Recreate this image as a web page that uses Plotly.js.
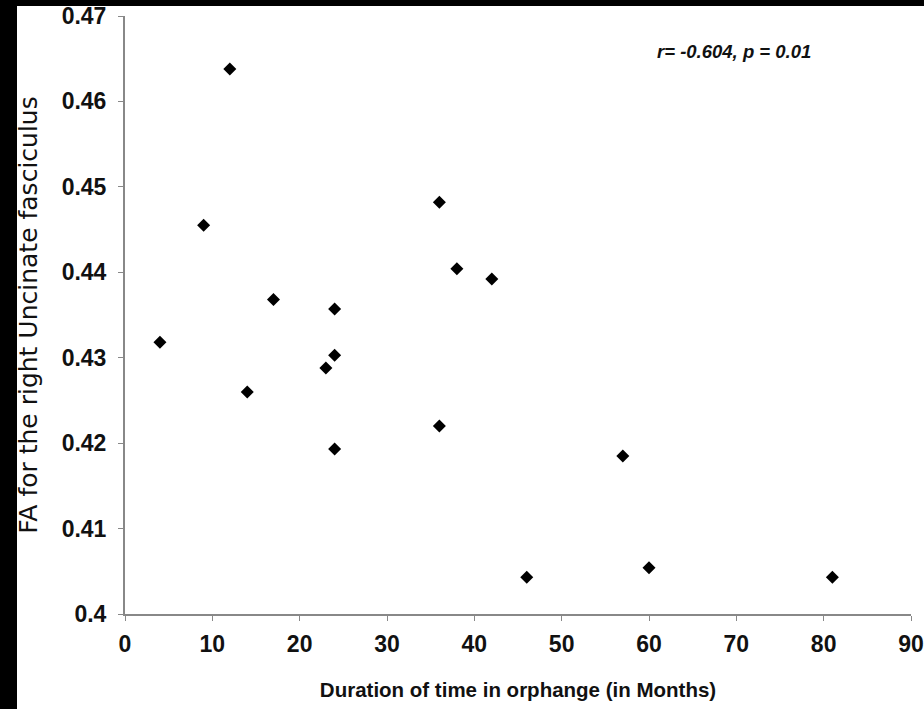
<!DOCTYPE html>
<html>
<head>
<meta charset="utf-8">
<script src="https://cdn.plot.ly/plotly-3.0.1.min.js"></script>
<style>
html,body{margin:0;padding:0;background:#000;width:924px;height:709px;overflow:hidden}
#sheet{position:absolute;left:17px;top:6px;width:907px;height:703px;background:#fff}
#plot{position:absolute;left:0;top:0;width:924px;height:709px}
</style>
</head>
<body>
<div id="sheet"></div>
<div id="plot"></div>
<script>
const months = [4, 9, 12, 14, 17, 23, 24, 24, 24, 36, 36, 38, 42, 46, 57, 60, 81];
const faRightUF = [0.4318, 0.4455, 0.4638, 0.4260, 0.4368, 0.4288, 0.4303, 0.4357, 0.4193, 0.4482, 0.4220, 0.4404, 0.4392, 0.4043, 0.4185, 0.4054, 0.4043];
const xTicks = [0, 10, 20, 30, 40, 50, 60, 70, 80, 90];
const yTicks = [0.4, 0.41, 0.42, 0.43, 0.44, 0.45, 0.46, 0.47];
const yTickText = ['0.4', '0.41', '0.42', '0.43', '0.44', '0.45', '0.46', '0.47'];
const statText = 'r= -0.604, p = 0.01';

const trace = {
  x: months, y: faRightUF, type: 'scatter', mode: 'markers',
  marker: {symbol: 'diamond', size: 10, color: '#000'},
  hoverinfo: 'skip'
};
const tickFont = {family: 'Liberation Sans, Arial, sans-serif', size: 23, color: '#111', weight: 'bold'};
const layout = {
  width: 924, height: 709,
  margin: {l: 125, r: 13, t: 16, b: 95},
  paper_bgcolor: 'rgba(0,0,0,0)', plot_bgcolor: 'rgba(0,0,0,0)',
  showlegend: false,
  xaxis: {
    range: [0, 90], tickvals: xTicks, ticktext: xTicks.map(String),
    showgrid: false, zeroline: false, showline: true, linecolor: '#888', linewidth: 2,
    ticks: 'outside', ticklen: 5, tickcolor: '#888', tickwidth: 1,
    tickfont: tickFont, ticklabelstandoff: 3, ticklabeloverflow: 'allow',
    title: {text: 'Duration of time in orphange (in Months)', font: {family: 'Liberation Sans, Arial, sans-serif', size: 20.5, color: '#111', weight: 'bold'}, standoff: 27}
  },
  yaxis: {
    range: [0.4, 0.47], tickvals: yTicks, ticktext: yTickText,
    showgrid: false, zeroline: false, showline: true, linecolor: '#888', linewidth: 2,
    ticks: 'outside', ticklen: 5, tickcolor: '#888', tickwidth: 1,
    tickfont: tickFont, ticklabelstandoff: 7, ticklabeloverflow: 'allow',
    title: {text: 'FA for the right Uncinate fasciculus', font: {family: 'DejaVu Sans, sans-serif', size: 25, color: '#111'}, standoff: 17}
  },
  annotations: [{
    text: '<b><i>' + statText + '</i></b>', xref: 'paper', yref: 'paper',
    x: 0.775, y: 0.94, xanchor: 'center', yanchor: 'middle', showarrow: false,
    font: {family: 'Liberation Sans, Arial, sans-serif', size: 18.5, color: '#111'}
  }]
};
Plotly.newPlot('plot', [trace], layout, {staticPlot: true, displayModeBar: false});
</script>
</body>
</html>
